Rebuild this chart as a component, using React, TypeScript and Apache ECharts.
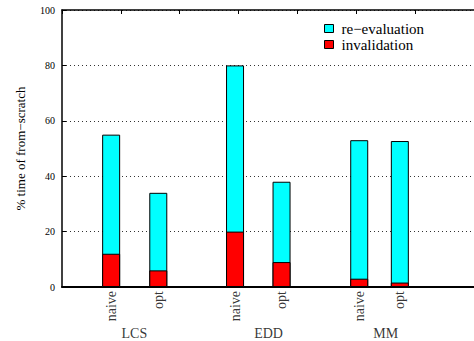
import React, { useEffect, useRef } from "react";
import * as echarts from "echarts";

const variants = ["naive", "opt", "naive", "opt", "naive", "opt"];
const barPositions = [0.835, 1.636, 2.94, 3.73, 5.05, 5.74];
const groups = ["LCS", "EDD", "MM"];
const groupPositions = [1.23, 3.51, 5.5];
const invalidation = [12, 6, 20, 9, 3, 1.6];
const totals = [55, 34, 80, 38, 53, 52.7];
const yTicks = [0, 20, 40, 60, 80, 100];

const FONT = "Liberation Serif, Times New Roman, Times, serif";

export default function App() {
  const ref = useRef<HTMLDivElement>(null);
  useEffect(() => {
    if (!ref.current) return;
    const chart = echarts.init(ref.current, undefined, { renderer: "svg" });
    chart.setOption({
      animation: false,
      textStyle: { fontFamily: FONT, color: "#000" },
      legend: {
        orient: "vertical",
        left: 319,
        top: 16,
        itemWidth: 9,
        itemHeight: 8,
        itemGap: 1,
        icon: "rect",
        data: ["re\u2212evaluation", "invalidation"],
        itemStyle: { borderColor: "#000", borderWidth: 1 },
        textStyle: { fontFamily: FONT, fontSize: 15, color: "#000", padding: [0, 0, 0, 3] },
      },
      grid: { left: 62, top: 10, width: 415, height: 277 },
      xAxis: [
        {
          type: "value",
          position: "bottom",
          min: 0,
          max: 7,
          interval: 1,
          axisLine: { show: true, lineStyle: { color: "#000", width: 2 } },
          axisTick: { show: false },
          axisLabel: { show: false },
          splitLine: { show: false },
        },
        {
          type: "value",
          position: "top",
          min: 0,
          max: 7,
          interval: 1,
          axisLine: { show: true, lineStyle: { color: "#000", width: 1.5 } },
          axisTick: { show: true, inside: true, length: 4, lineStyle: { color: "#000" } },
          axisLabel: { show: false },
          splitLine: { show: false },
        },
      ],
      yAxis: {
        type: "value",
        min: yTicks[0],
        max: yTicks[yTicks.length - 1],
        interval: 20,
        name: "% time of from\u2212scratch",
        nameLocation: "middle",
        nameGap: 35,
        nameTextStyle: { fontFamily: FONT, fontSize: 13, color: "#000" },
        axisLine: { show: true, lineStyle: { color: "#000", width: 1.5 } },
        axisTick: { show: true, inside: true, length: 4, lineStyle: { color: "#000" } },
        axisLabel: { fontFamily: FONT, fontSize: 10, color: "#000", margin: 7 },
        splitLine: { show: true, lineStyle: { color: "#333", width: 1, type: [1, 3] } },
      },
      series: [
        {
          name: "re\u2212evaluation",
          type: "bar",
          barWidth: 18,
          barGap: "-100%",
          itemStyle: { color: "#00ffff", borderColor: "#000", borderWidth: 1 },
          data: barPositions.map((x, i) => [x, totals[i]]),
        },
        {
          name: "invalidation",
          type: "bar",
          barWidth: 18,
          barGap: "-100%",
          itemStyle: { color: "#ff0000", borderColor: "#000", borderWidth: 1 },
          data: barPositions.map((x, i) => [x, invalidation[i]]),
        },
        {
          name: "variantLabels",
          type: "scatter",
          symbolSize: 0,
          clip: false,
          silent: true,
          data: barPositions.map((x, i) => ({ value: [x, 0], name: variants[i] })),
          label: {
            show: true,
            position: "bottom",
            distance: 4,
            rotate: 90,
            align: "right",
            verticalAlign: "middle",
            formatter: (p: any) => p.name,
            fontFamily: FONT,
            fontSize: 14,
            color: "#000",
          },
        },
        {
          name: "groupLabels",
          type: "scatter",
          symbolSize: 0,
          clip: false,
          silent: true,
          data: groupPositions.map((x, i) => ({ value: [x, 0], name: groups[i] })),
          label: {
            show: true,
            position: "bottom",
            distance: 39,
            formatter: (p: any) => p.name,
            fontFamily: FONT,
            fontSize: 14,
            color: "#000",
          },
        },
      ],
    });
    return () => chart.dispose();
  }, []);
  return <div ref={ref} style={{ width: 474, height: 341, position: "absolute", left: 0, top: 0 }} />;
}
